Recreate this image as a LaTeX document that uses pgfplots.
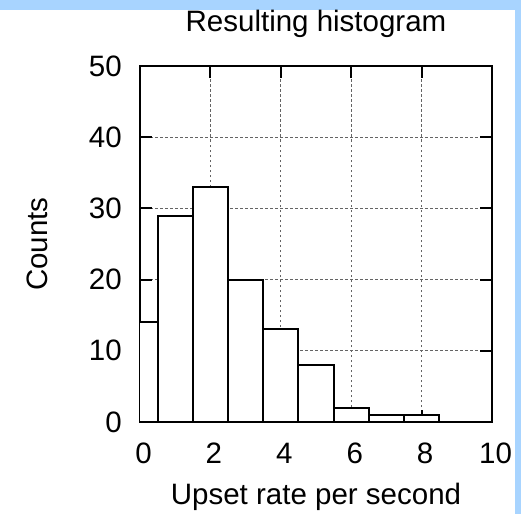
\documentclass[border=0pt]{standalone}
\usepackage{fontspec}
\setmainfont{Liberation Sans}
\usepackage{pgfplots}
\pgfplotsset{compat=1.18}
\definecolor{frameblue}{RGB}{168,212,255}
\definecolor{gridgray}{RGB}{100,100,100}
% grid under the bars, ticks and frame over them
\pgfplotsset{layers/gridbelow/.define layer set={axis background,axis grid,pre main,main,axis ticks,axis lines,axis tick labels,axis descriptions,axis foreground}{}}

\begin{document}
\begin{tikzpicture}
\fill[white] (0pt,0pt) rectangle (521pt,-514pt);
\fill[frameblue] (0pt,0pt) rectangle (521pt,-10pt);
\fill[frameblue] (515pt,0pt) rectangle (521pt,-514pt);
\begin{axis}[at={(140pt,-422pt)}, anchor=south west, scale only axis,
             width=352pt, height=356pt, set layers=gridbelow,
             xmin=0, xmax=10, ymin=0, ymax=50,
             xtick={0,2,...,10}, ytick={0,10,...,50},
             tick align=inside, major tick length=12pt,
             axis line style={line width=2pt, black},
             tick style={line width=2pt, black},
             grid=major, major grid style={gridgray, line width=1.3pt, dash pattern=on 2.5pt off 2.5pt},
             /pgf/number format/assume math mode=true,
             tick label style={font=\fontsize{29.5}{34}\selectfont},
             label style={font=\fontsize{29.5}{34}\selectfont},
             title style={font=\fontsize{29.5}{34}\selectfont},
             xticklabel style={anchor=base, yshift=-41pt, xshift=3.5pt},
             yticklabel style={anchor=east, inner sep=0pt, xshift=-18pt},
             every axis title shift=0pt,
             title={Resulting histogram},
             title style={at={(axis description cs:0.5,1.0983)}, anchor=base},
             xlabel={Upset rate per second},
             xlabel style={at={(axis description cs:0.5,-0.2331)}, anchor=base},
             ylabel={Counts},
             ylabel style={at={(axis description cs:-0.2642,0.5)}, anchor=base}]
\addplot[ybar, bar width=1, fill=white, draw=black, line width=2pt]
  coordinates {(0,14) (1,29) (2,33) (3,20) (4,13) (5,8) (6,2) (7,1) (8,1)};
\end{axis}
\end{tikzpicture}
\end{document}
